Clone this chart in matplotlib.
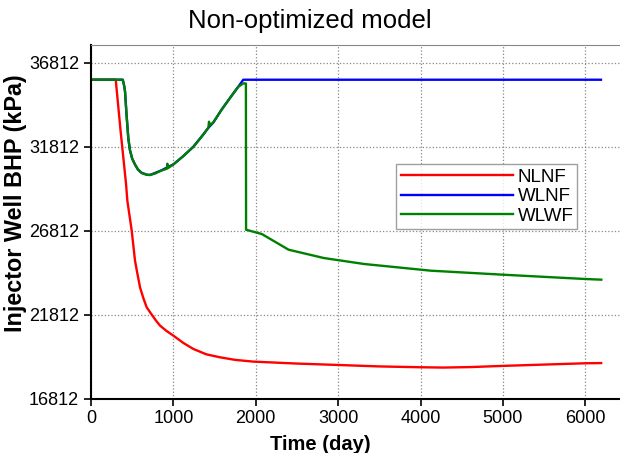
import numpy as np
import matplotlib.pyplot as plt

plt.rcParams['font.family'] = ['Liberation Sans', 'DejaVu Sans']

# NLNF (red) - days / kPa
nlnf_t = [0, 300, 360, 425, 441, 494, 534, 565, 595, 635, 676, 737, 790, 838, 920, 1000,
          1120, 1243, 1400, 1567, 1750, 1968, 2500, 2976, 3500, 3985, 4272, 4600, 4992,
          5500, 6000, 6192]
nlnf_p = [35800, 35800, 32700, 29600, 28600, 26812, 25026, 24200, 23439, 22800, 22248,
          21812, 21450, 21157, 20830, 20562, 20130, 19768, 19450, 19272, 19120, 19017,
          18900, 18820, 18730, 18682, 18662, 18690, 18761, 18840, 18918, 18930]

# WLNF (blue)
wlnf_t = [0, 385, 400, 413, 430, 453, 473, 500, 534, 570, 615, 680, 716, 838, 1000, 1121,
          1243, 1364, 1425, 1484, 1587, 1700, 1787, 1848, 6190]
wlnf_p = [35800, 35800, 35500, 35100, 33800, 32300, 31600, 31100, 30750, 30450, 30250,
          30140, 30130, 30365, 30760, 31256, 31812, 32546, 32943, 33250, 34034, 34800,
          35380, 35800, 35800]

# WLWF (green)
wlwf_t = [0, 385, 400, 413, 430, 453, 473, 500, 534, 570, 615, 680, 716, 780, 838, 920,
          927, 935, 1000, 1121, 1243, 1364, 1425, 1432, 1445, 1484, 1587, 1700, 1787, 1848,
          1880, 1882, 2073, 2398, 2825, 3313, 3720, 4126, 5000, 6000, 6194]
wlwf_p = [35800, 35800, 35500, 35100, 33800, 32300, 31600, 31100, 30750, 30450, 30250,
          30140, 30130, 30220, 30365, 30500, 30800, 30540, 30760, 31256, 31812, 32546,
          32943, 33300, 33100, 33250, 34034, 34800, 35380, 35580, 35580, 26870, 26614,
          25680, 25185, 24830, 24630, 24430, 24192, 23935, 23895]

yticks = [16812, 21812, 26812, 31812, 36812]
xticks = [0, 1000, 2000, 3000, 4000, 5000, 6000]

fig = plt.figure(figsize=(6.2, 4.53), dpi=100)
ax = fig.add_axes([0.1468, 0.12, 0.8532, 0.78])

ax.plot(nlnf_t, nlnf_p, color='#ff0000', lw=1.7, label='NLNF')
ax.plot(wlnf_t, wlnf_p, color='#0000ff', lw=1.7, label='WLNF')
ax.plot(wlwf_t, wlwf_p, color='#008000', lw=1.7, label='WLWF')

ax.set_xlim(0, 6421)
ax.set_ylim(16812, 37850)
ax.set_xticks(xticks)
ax.set_yticks(yticks)
ax.tick_params(labelsize=13, direction='out', length=5, width=1.2, colors='black')
ax.grid(True, color='#888888', linestyle=':', linewidth=0.9)

for side in ['left', 'bottom']:
    ax.spines[side].set_linewidth(1.5)
    ax.spines[side].set_color('black')
ax.spines['top'].set_color('#888888')
ax.spines['right'].set_visible(False)

# title centred on the figure, not the axes
fig.text(0.5, 1 - 28 / 453, 'Non-optimized model', fontsize=18.5, ha='center', va='baseline')
ax.set_ylabel('Injector Well BHP (kPa)', fontsize=16.8, fontweight='bold')
ax.yaxis.set_label_coords(-0.121, 0.554)
ax.set_xlabel('Time (day)', fontsize=14.5, fontweight='bold')
ax.xaxis.set_label_coords(0.433, -0.103)

ax.legend(loc='lower left', bbox_to_anchor=(0.5766, 0.479, 0.343, 0.187), mode='expand',
          fontsize=13.5, handlelength=6.0, handletextpad=0.25, borderpad=0.25,
          labelspacing=0.12, frameon=True, fancybox=False, edgecolor='#888888',
          borderaxespad=0)

fig.savefig('out.png', dpi=100)
